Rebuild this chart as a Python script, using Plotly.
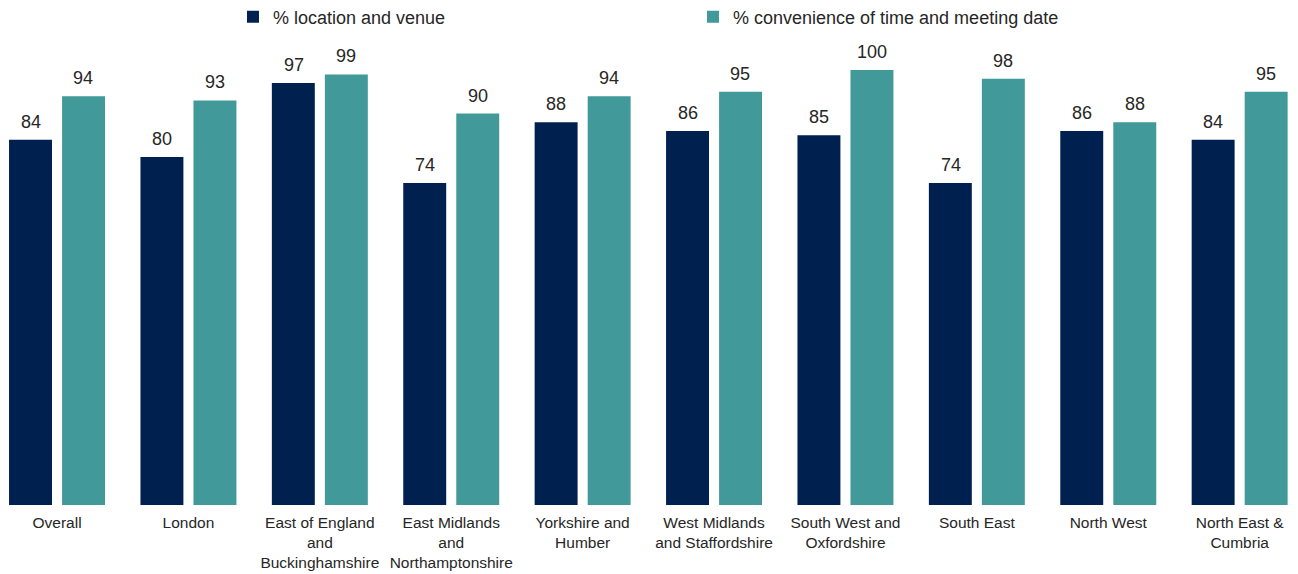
import plotly.graph_objects as go

categories = ["Overall", "London", "East of England<br>and<br>Buckinghamshire",
              "East Midlands<br>and<br>Northamptonshire", "Yorkshire and<br>Humber",
              "West Midlands<br>and Staffordshire", "South West and<br>Oxfordshire",
              "South East", "North West", "North East &<br>Cumbria"]
location_venue = [84, 80, 97, 74, 88, 86, 85, 74, 86, 84]
convenience_time = [94, 93, 99, 90, 94, 95, 100, 98, 88, 95]

series_names = ["% location and venue", "% convenience of time and meeting date"]
colors = ["#00214F", "#42999A"]
FONT = "Liberation Sans, Arial, sans-serif"

fig = go.Figure()
x_idx = list(range(len(categories)))
for name, vals, col in zip(series_names, [location_venue, convenience_time], colors):
    fig.add_trace(go.Bar(
        x=x_idx, y=vals, name=name,
        marker=dict(color=col, line=dict(width=0)),
    ))

# value labels
offsets = [-0.2, 0.2]
for off, vals in zip(offsets, [location_venue, convenience_time]):
    for i, v in enumerate(vals):
        fig.add_annotation(x=i + off, y=v, text=str(v), showarrow=False,
                           yanchor="bottom", yshift=6,
                           font=dict(size=18, color="#262626", family=FONT))

fig.update_layout(
    width=1298, height=574,
    margin=dict(l=0, r=0, t=0, b=69, pad=0, autoexpand=False),
    paper_bgcolor="white", plot_bgcolor="white",
    barmode="group", bargap=0.193, bargroupgap=0.19,
    font=dict(family=FONT, size=15.5, color="#262626"),
    showlegend=True,
    legend=dict(orientation="h", x=0.1795, y=1 - 17 / 505, xanchor="left", yanchor="middle",
                entrywidth=415, font=dict(size=18, color="#262626", family=FONT),
                itemwidth=30, traceorder="normal", bgcolor="rgba(0,0,0,0)"),
    xaxis=dict(tickmode="array", tickvals=x_idx, ticktext=categories,
               range=[-0.434, 9.444], showgrid=False, showline=False,
               zeroline=False, ticks="", tickangle=0, automargin=False,
               ticklabelstandoff=6),
    yaxis=dict(range=[0, 116.1], visible=False, showgrid=False, zeroline=False,
               automargin=False),
)

fig.write_html("out.html", config={"displayModeBar": False},
               post_script="document.body.style.margin='0';document.body.style.padding='0';")
